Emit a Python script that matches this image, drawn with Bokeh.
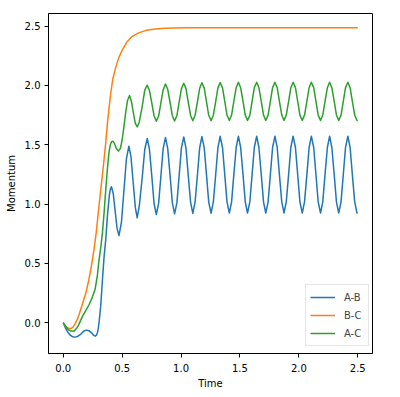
from bokeh.plotting import figure
from bokeh.models import ColumnDataSource, FixedTicker, Legend, LegendItem
from bokeh.embed import file_html
from bokeh.resources import INLINE

# ---- data ----
# early (transient) part of each series
ab_t_early = [0.0, 0.02, 0.04, 0.06, 0.08, 0.101, 0.125, 0.15, 0.175, 0.197, 0.22, 0.24, 0.258,
              0.271, 0.282, 0.29, 0.297, 0.304, 0.318, 0.333, 0.347, 0.361, 0.375, 0.392, 0.40,
              0.409, 0.425, 0.441, 0.457, 0.473, 0.494, 0.515, 0.536, 0.557, 0.575, 0.593,
              0.612, 0.628, 0.645, 0.670, 0.692]
ab_v_early = [0.0, -0.045, -0.08, -0.105, -0.118, -0.121, -0.113, -0.095, -0.070, -0.062, -0.068,
              -0.085, -0.105, -0.113, -0.105, -0.084, -0.05, 0.0, 0.14, 0.365, 0.56, 0.70, 0.90,
              1.08, 1.125, 1.146, 1.086, 0.94, 0.795, 0.735, 0.845, 1.11, 1.378, 1.488, 1.40,
              1.19, 0.97, 0.885, 0.98, 1.22, 1.46]

ac_t_early = [0.0, 0.02, 0.04, 0.065, 0.093, 0.115, 0.13, 0.164, 0.19, 0.22, 0.245, 0.27, 0.29,
              0.304, 0.318, 0.333, 0.347, 0.361, 0.375, 0.389, 0.40, 0.41, 0.422, 0.435, 0.45,
              0.468, 0.485, 0.50, 0.515, 0.53, 0.545, 0.563, 0.58, 0.595, 0.612, 0.628, 0.645,
              0.670, 0.692]
ac_v_early = [0.0, -0.03, -0.055, -0.07, -0.07, -0.045, -0.02, 0.056, 0.10, 0.154, 0.21, 0.28,
              0.40, 0.53, 0.63, 0.76, 0.93, 1.12, 1.30, 1.44, 1.50, 1.525, 1.53, 1.51, 1.47,
              1.446, 1.47, 1.54, 1.65, 1.77, 1.87, 1.915, 1.86, 1.77, 1.68, 1.651, 1.69, 1.82,
              1.96]

# oscillating part: shared sample times (A-B and A-C are in phase)
osc_t = [0.713, 0.732, 0.752, 0.771, 0.790, 0.810, 0.829, 0.848, 0.868, 0.887, 0.907, 0.926,
         0.945, 0.965, 0.984, 1.003, 1.023, 1.042, 1.061, 1.081, 1.100, 1.119, 1.139, 1.158,
         1.177, 1.197, 1.216, 1.235, 1.255, 1.274, 1.294, 1.313, 1.332, 1.352, 1.371, 1.390,
         1.410, 1.429, 1.448, 1.468, 1.487, 1.506, 1.526, 1.545, 1.564, 1.584, 1.603, 1.622,
         1.642, 1.661, 1.681, 1.700, 1.719, 1.739, 1.758, 1.777, 1.797, 1.816, 1.835, 1.855,
         1.874, 1.893, 1.913, 1.932, 1.951, 1.971, 1.990, 2.009, 2.029, 2.048, 2.068, 2.087,
         2.106, 2.126, 2.145, 2.164, 2.184, 2.203, 2.222, 2.242, 2.261, 2.280, 2.300, 2.319,
         2.338, 2.358, 2.377, 2.396, 2.416, 2.435, 2.454, 2.474, 2.493, 2.5]
ab_v_osc = [1.553, 1.460, 1.233, 1.005, 0.912, 1.008, 1.237, 1.467,
            1.562, 1.467, 1.240, 1.012, 0.918, 1.012, 1.242, 1.472,
            1.566, 1.471, 1.244, 1.015, 0.921, 1.016, 1.245, 1.474,
            1.569, 1.474, 1.246, 1.017, 0.923, 1.018, 1.247, 1.476,
            1.571, 1.477, 1.248, 1.019, 0.925, 1.019, 1.248, 1.477,
            1.572, 1.477, 1.248, 1.019, 0.925, 1.019, 1.248, 1.477,
            1.572, 1.477, 1.248, 1.019, 0.925, 1.019, 1.248, 1.477,
            1.572, 1.477, 1.248, 1.019, 0.925, 1.019, 1.248, 1.477,
            1.572, 1.477, 1.248, 1.019, 0.925, 1.019, 1.248, 1.477,
            1.572, 1.477, 1.248, 1.019, 0.925, 1.019, 1.248, 1.477,
            1.572, 1.477, 1.248, 1.019, 0.925, 1.019, 1.248, 1.477,
            1.572, 1.477, 1.248, 1.019, 0.925, 0.926]
ac_v_osc = [2.002, 1.957, 1.850, 1.743, 1.698, 1.744, 1.853, 1.962,
            2.012, 1.967, 1.856, 1.745, 1.700, 1.746, 1.859, 1.971,
            2.018, 1.973, 1.860, 1.747, 1.702, 1.748, 1.862, 1.976,
            2.022, 1.977, 1.862, 1.748, 1.703, 1.749, 1.864, 1.979,
            2.025, 1.979, 1.865, 1.749, 1.704, 1.750, 1.866, 1.981,
            2.027, 1.981, 1.866, 1.750, 1.704, 1.750, 1.866, 1.981,
            2.027, 1.981, 1.866, 1.750, 1.704, 1.750, 1.866, 1.981,
            2.027, 1.981, 1.866, 1.750, 1.704, 1.750, 1.866, 1.981,
            2.027, 1.981, 1.866, 1.750, 1.704, 1.750, 1.866, 1.981,
            2.027, 1.981, 1.866, 1.750, 1.704, 1.750, 1.866, 1.981,
            2.027, 1.981, 1.866, 1.750, 1.704, 1.750, 1.866, 1.981,
            2.027, 1.981, 1.866, 1.750, 1.704, 1.705]

bc_t = [0.0, 0.02, 0.04, 0.065, 0.085, 0.10, 0.12, 0.135, 0.16, 0.192, 0.215, 0.234, 0.262,
        0.28, 0.30, 0.316, 0.333, 0.347, 0.361, 0.375, 0.39, 0.403, 0.42, 0.445, 0.47, 0.502,
        0.54, 0.586, 0.64, 0.698, 0.75, 0.80, 0.87, 0.937, 1.05, 1.3, 1.8, 2.5]
bc_v = [0.0, -0.03, -0.045, -0.05, -0.035, -0.01, 0.03, 0.07, 0.15, 0.25, 0.35, 0.45, 0.62,
        0.76, 0.95, 1.10, 1.25, 1.38, 1.52, 1.68, 1.82, 1.93, 2.05, 2.15, 2.23, 2.30,
        2.365, 2.414, 2.443, 2.462, 2.472, 2.477, 2.481, 2.483, 2.485, 2.485, 2.485, 2.485]

series_names = ["A-B", "B-C", "A-C"]
series_colors = ["#1f77b4", "#ff7f0e", "#2ca02c"]

x_ticks = [0.0, 0.5, 1.0, 1.5, 2.0, 2.5]
x_tick_labels = ["0.0", "0.5", "1.0", "1.5", "2.0", "2.5"]
y_ticks = [0.0, 0.5, 1.0, 1.5, 2.0, 2.5]
y_tick_labels = ["0.0", "0.5", "1.0", "1.5", "2.0", "2.5"]

FONT = "DejaVu Sans"

p = figure(frame_width=324, frame_height=340, x_range=(-0.125, 2.625), y_range=(-0.259, 2.606),
           output_backend="svg", toolbar_location=None,
           min_border_left=48, min_border_right=20, min_border_top=13, min_border_bottom=35)

p.xgrid.visible = False
p.ygrid.visible = False
p.outline_line_color = "black"
p.outline_line_width = 1
p.background_fill_color = "white"
p.border_fill_color = "white"

sources = [ColumnDataSource(dict(t=ab_t_early + osc_t, v=ab_v_early + ab_v_osc)),
           ColumnDataSource(dict(t=bc_t, v=bc_v)),
           ColumnDataSource(dict(t=ac_t_early + osc_t, v=ac_v_early + ac_v_osc))]

renderers = []
for src, col in zip(sources, series_colors):
    r = p.line(x="t", y="v", source=src, line_color=col, line_width=1.5, line_join="round")
    renderers.append(r)

legend = Legend(items=[LegendItem(label=n, renderers=[r]) for n, r in zip(series_names, renderers)],
                location=(257, 7), padding=4, margin=0, spacing=2,
                glyph_width=25, glyph_height=16, label_standoff=9,
                label_text_font=FONT, label_text_font_size="10px", label_height=16,
                border_line_color="#cccccc", border_line_width=1,
                background_fill_alpha=0.8)
p.add_layout(legend)

for ax, ticks, labels, name in [(p.xaxis[0], x_ticks, x_tick_labels, "Time"),
                                 (p.yaxis[0], y_ticks, y_tick_labels, "Momentum")]:
    ax.ticker = FixedTicker(ticks=ticks)
    ax.major_label_overrides = {t: l for t, l in zip(ticks, labels)}
    ax.minor_tick_line_color = None
    ax.major_tick_in = 0
    ax.major_tick_out = 4
    ax.major_tick_line_color = "black"
    ax.axis_line_color = "black"
    ax.major_label_text_font = FONT
    ax.major_label_text_font_size = "10px"
    ax.major_label_text_color = "black"
    ax.axis_label = name
    ax.axis_label_text_font = FONT
    ax.axis_label_text_font_size = "10px"
    ax.axis_label_text_font_style = "normal"
    ax.axis_label_text_color = "black"

p.xaxis[0].major_label_standoff = 6
p.xaxis[0].axis_label_standoff = 3
p.yaxis[0].major_label_standoff = 4
p.yaxis[0].axis_label_standoff = 5

open("out.html", "w").write(file_html(p, INLINE))
